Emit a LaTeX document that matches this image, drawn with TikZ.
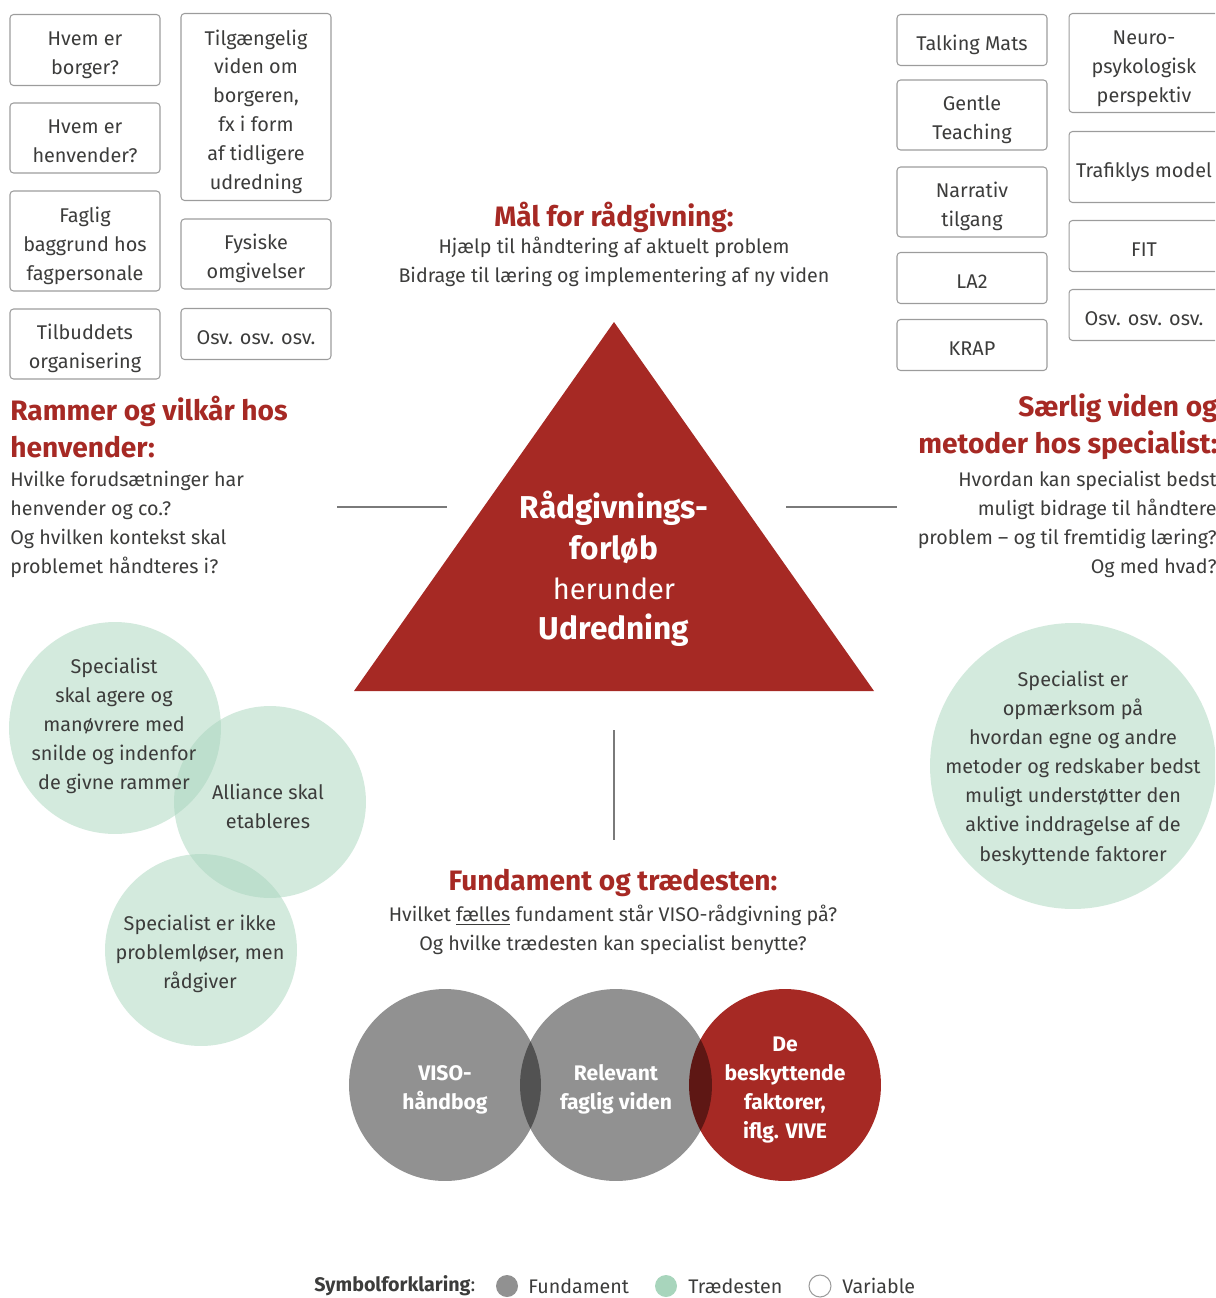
\documentclass[tikz,border=0pt]{standalone}
\usepackage{fontspec}
\setmainfont{Fira Sans}
\definecolor{vred}{HTML}{A62924}
\definecolor{vgreen}{HTML}{A8D5BC}
\definecolor{vtext}{HTML}{3C3C3B}
\definecolor{vbox}{HTML}{9C9C9C}
\definecolor{vline}{HTML}{7A7A7A}
\newcommand{\celltxt}[2][5.4pt]{\raisebox{-#1}[0pt][0pt]{\begin{tabular}{@{}c@{}}#2\end{tabular}}}

\begin{document}
\begin{tikzpicture}[x=0.02cm,y=-0.02cm,
	box_node/.style={draw=vbox,line width=0.6pt,rounded corners=2pt,minimum width=3cm,inner sep=2pt,text=vtext,font=\fontsize{11.3}{16.5}\selectfont},
	head_node/.style={text=vred,font=\bfseries\fontsize{16}{21}\selectfont,inner sep=0pt},
	body_node/.style={text=vtext,font=\fontsize{11.2}{16.5}\selectfont,inner sep=0pt},
	green_node/.style={circle,fill=vgreen,fill opacity=0.5,inner sep=0pt},
	green_text/.style={text=vtext,align=center,inner sep=0pt,font=\fontsize{11.3}{16.6}\selectfont},
	base_node/.style={circle,fill=black,fill opacity=0.43,text opacity=1,text=white,inner sep=0pt,minimum size=3.84cm,font=\bfseries\fontsize{12}{16.5}\selectfont},
	line_gray/.style={draw=vline,line width=1pt}]

	\clip (0,0) rectangle (1215,1298);

	\node[box_node,minimum height=1.42cm] (l1) at (85,50) {\celltxt{Hvem er\\borger?}};
	\node[box_node,minimum height=1.4cm] (l2) at (85,138) {\celltxt{Hvem er\\henvender?}};
	\node[box_node,minimum height=2cm] (l3) at (85,241) {\celltxt{Faglig\\baggrund hos\\fagpersonale}};
	\node[box_node,minimum height=1.4cm] (l4) at (85,344) {\celltxt{Tilbuddets\\organisering}};
	\node[box_node,minimum height=3.74cm] (l5) at (256,107) {\celltxt{Tilgængelig\\viden om\\borgeren,\\fx i form\\af tidligere\\udredning}};
	\node[box_node,minimum height=1.4cm] (l6) at (256,254) {\celltxt{Fysiske\\omgivelser}};
	\node[box_node,minimum height=1.02cm] (l7) at (256,334) {\celltxt{Osv. osv. osv.}};

	\node[box_node,minimum height=1.02cm] (r1) at (972,40) {\celltxt{Talking Mats}};
	\node[box_node,minimum height=1.4cm] (r2) at (972,115) {\celltxt{Gentle\\Teaching}};
	\node[box_node,minimum height=1.4cm] (r3) at (972,202) {\celltxt{Narrativ\\tilgang}};
	\node[box_node,minimum height=1.02cm] (r4) at (972,278) {\celltxt{LA2}};
	\node[box_node,minimum height=1.02cm] (r5) at (972,345) {\celltxt{KRAP}};
	\node[box_node,minimum height=1.98cm] (r6) at (1144,63) {\celltxt{Neuro-\\psykologisk\\perspektiv}};
	\node[box_node,minimum height=1.42cm] (r7) at (1144,167) {\celltxt{Trafiklys model}};
	\node[box_node,minimum height=1.02cm] (r8) at (1144,246) {\celltxt{FIT}};
	\node[box_node,minimum height=1.02cm] (r9) at (1144,315) {\celltxt{Osv. osv. osv.}};

	\node[head_node] (maal) at (614,217) {Mål for rådgivning:};
	\node[body_node,align=center] (maaltxt) at (614,262) {Hjælp til håndtering af aktuelt problem\\Bidrage til læring og implementering af ny viden};

	\node[head_node,align=left,anchor=west] (ramme) at (10,427) {Rammer og vilkår hos\\henvender:};
	\node[body_node,align=left,anchor=west] (rammetxt) at (10,524) {Hvilke forudsætninger har\\henvender og co.?\\Og hvilken kontekst skal\\problemet håndteres i?};

	\node[head_node,align=right,anchor=east] (saerlig) at (1218,427) {Særlig viden og\\metoder hos specialist:};
	\node[body_node,align=right,anchor=east] (saerligtxt) at (1217,524) {Hvordan kan specialist bedst\\muligt bidrage til håndtere\\problem -- og til fremtidig læring?\\Og med hvad?};

	\fill[vred] (614,322) -- (874,691) -- (354,691) -- cycle;
	\node[text=white,align=center,font=\fontsize{18}{23}\selectfont] (forloeb) at (614,569) {\textbf{Rådgivnings-}\\\textbf{forløb}\\{\fontsize{16.5}{23}\selectfont herunder}\\\textbf{Udredning}};

	\coordinate (a1) at (337,507);
	\coordinate (a2) at (447,507);
	\coordinate (b1) at (786,507);
	\coordinate (b2) at (897,507);
	\coordinate (c1) at (614,730);
	\coordinate (c2) at (614,840);
	\draw[line_gray] (a1) -- (a2);
	\draw[line_gray] (b1) -- (b2);
	\draw[line_gray] (c1) -- (c2);

	\node[green_node,minimum size=4.24cm] (g1) at (115,728) {};
	\node[green_node,minimum size=3.84cm] (g2) at (270,802) {};
	\node[green_node,minimum size=3.84cm] (g3) at (201,950) {};
	\node[green_node,minimum size=5.72cm] (g4) at (1073,766) {};
	\node[green_text] (g1txt) at ([shift={(-1,-2)}]g1.center) {Specialist\\skal agere og\\manøvrere med\\snilde og indenfor\\de givne rammer};
	\node[green_text] (g2txt) at ([shift={(-2,4)}]g2.center) {Alliance skal\\etableres};
	\node[green_text] (g3txt) at ([shift={(-1,4)}]g3.center) {Specialist er ikke\\problemløser, men\\rådgiver};
	\node[green_text] (g4txt) at ([shift={(0,2)}]g4.center) {Specialist er\\opmærksom på\\hvordan egne og andre\\metoder og redskaber bedst\\muligt understøtter den\\aktive inddragelse af de\\beskyttende faktorer};

	\node[head_node] (fund) at (613,883) {Fundament og trædesten:};
	\node[body_node,align=center] (fundtxt) at (613,930) {Hvilket \underline{fælles} fundament står VISO-rådgivning på?\\Og hvilke trædesten kan specialist benytte?};

	\node[circle,fill=vred,minimum size=3.84cm,text=white,inner sep=0pt,font=\bfseries\fontsize{12}{16.5}\selectfont] (f3) at (785,1085) {\celltxt[5.2pt]{De\\beskyttende\\faktorer,\\iflg. VIVE}};
	\node[base_node] (f1) at (445,1085) {\celltxt[5.3pt]{VISO-\\håndbog}};
	\node[base_node] (f2) at (616,1085) {\celltxt[5.3pt]{Relevant\\faglig viden}};

	\node[body_node,anchor=west] (symb) at (314,1286) {\textbf{Symbolforklaring}:};
	\node[circle,fill=black,fill opacity=0.43,minimum size=0.44cm,inner sep=0pt] (s1) at (507,1286) {};
	\node[body_node,anchor=west] (s1txt) at (528,1286) {Fundament};
	\node[circle,fill=vgreen,minimum size=0.44cm,inner sep=0pt] (s2) at (666,1286) {};
	\node[body_node,anchor=west] (s2txt) at (688,1286) {Trædesten};
	\node[circle,draw=vbox,line width=0.6pt,minimum size=0.44cm,inner sep=0pt] (s3) at (820,1286) {};
	\node[body_node,anchor=west] (s3txt) at (842,1286) {Variable};
\end{tikzpicture}
\end{document}
